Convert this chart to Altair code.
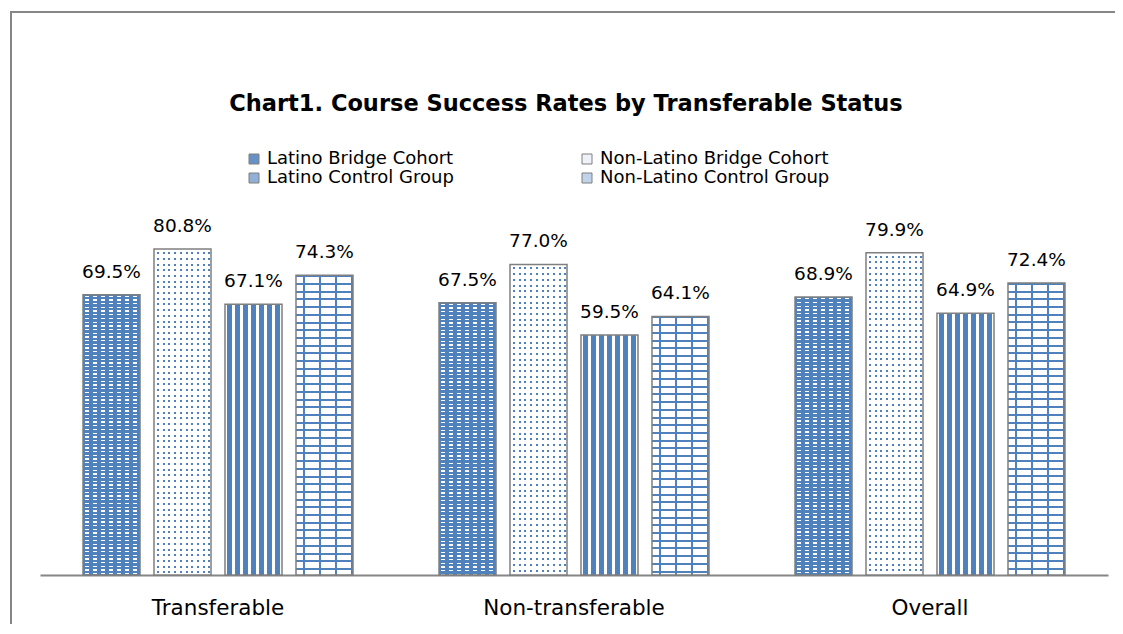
import math
import altair as alt
import pandas as pd

# ---------------- data ----------------
categories = ["Transferable", "Non-transferable", "Overall"]
series_names = [
    "Latino Bridge Cohort",
    "Non-Latino Bridge Cohort",
    "Latino Control Group",
    "Non-Latino Control Group",
]
latino_bridge = [0.695, 0.675, 0.689]
nonlatino_bridge = [0.808, 0.770, 0.799]
latino_control = [0.671, 0.595, 0.649]
nonlatino_control = [0.743, 0.641, 0.724]
values_by_series = [latino_bridge, nonlatino_bridge, latino_control, nonlatino_control]

rows = []
for s, vals in zip(series_names, values_by_series):
    for c, v in zip(categories, vals):
        rows.append({"category": c, "series": s, "value": v})
df = pd.DataFrame(rows)

# ---------------- style ----------------
W, H = 1068, 363
YMAX = 0.9
BAR_W = 57.0
BLUE = "#4F81BD"
WHITE = "#FFFFFF"
CLEAR = "rgba(255,255,255,0)"
GRAY = "#7F7F7F"
AXIS_GRAY = "#868686"
FONT = "DejaVu Sans"
legend_colors = ["#6792C6", "#EEF2F8", "#91B0D6", "#C1D3E8"]


def stripe_gradient(length, period, on_len, on_color, off_color, phase, vertical):
    segs = []
    s = phase - period * math.ceil(phase / period)
    cur = 0.0
    while cur < length - 1e-9:
        a, b = s, s + on_len
        if a > cur:
            e = min(a, length)
            segs.append((cur, e, off_color))
            cur = e
        if b > cur and cur < length:
            e = min(b, length)
            segs.append((cur, e, on_color))
            cur = e
        s += period
    stops = []
    for a, b, col in segs:
        stops.append(alt.GradientStop(color=col, offset=round(a / length, 5)))
        stops.append(alt.GradientStop(color=col, offset=round(b / length, 5)))
    if vertical:
        return alt.LinearGradient(gradient="linear", stops=stops, x1=0, x2=0, y1=0, y2=1)
    return alt.LinearGradient(gradient="linear", stops=stops, x1=0, x2=1, y1=0, y2=0)


def pattern_fills(idx, h):
    """Fills from bottom to top that build the pattern of one bar."""
    if idx == 0:  # blue with white dashes
        return [
            stripe_gradient(h, 3.7, 1.3, WHITE, BLUE, 1.0, True),
            stripe_gradient(BAR_W, 8.0, 4.0, CLEAR, BLUE, 2.0, False),
        ]
    if idx == 1:  # white with blue dots
        return [
            stripe_gradient(BAR_W, 5.7, 2.0, BLUE, WHITE, 3.0, False),
            stripe_gradient(h, 5.7, 2.0, CLEAR, WHITE, 3.0, True),
        ]
    if idx == 2:  # vertical stripes
        return [stripe_gradient(BAR_W, 8.0, 5.0, BLUE, WHITE, 2.0, False)]
    # bricks
    return [
        stripe_gradient(h, 7.7, 2.0, BLUE, WHITE, 0.0, True),
        stripe_gradient(BAR_W, 16.0, 2.0, BLUE, CLEAR, 7.0, False),
    ]


enc = dict(
    x=alt.X(
        "category:N",
        scale=alt.Scale(domain=categories, paddingInner=0.2416, paddingOuter=0.1208),
        axis=alt.Axis(
            title=None,
            labelAngle=0,
            ticks=False,
            grid=False,
            domainColor=AXIS_GRAY,
            domainWidth=2,
            labelFont=FONT,
            labelFontSize=21.5,
            labelColor="black",
            labelPadding=22,
            labelLimit=400,
        ),
    ),
    xOffset=alt.XOffset(
        "series:N",
        scale=alt.Scale(domain=series_names, paddingInner=0.197, paddingOuter=0),
    ),
    y=alt.Y("value:Q", scale=alt.Scale(domain=[0, YMAX]), axis=None),
)

base = alt.Chart(df)

layers = [
    base.mark_bar().encode(
        **enc,
        color=alt.Color(
            "series:N",
            scale=alt.Scale(domain=series_names, range=legend_colors),
            legend=alt.Legend(
                title=None,
                orient="none",
                direction="horizontal",
                legendX=205,
                legendY=-62,
                columns=2,
                columnPadding=124,
                rowPadding=1,
                symbolType="square",
                symbolSize=100,
                symbolStrokeColor=GRAY,
                symbolStrokeWidth=1,
                labelFont=FONT,
                labelFontSize=18,
                labelColor="black",
                labelOffset=4,
                labelLimit=400,
                padding=0,
            ),
        ),
    )
]

for idx, (s, vals) in enumerate(zip(series_names, values_by_series)):
    for c, v in zip(categories, vals):
        h = v / YMAX * H
        fills = pattern_fills(idx, h)
        for k, f in enumerate(fills):
            props = dict(fill=f)
            if k == len(fills) - 1:
                props.update(stroke=GRAY, strokeWidth=1.5)
            layers.append(
                base.mark_bar(**props)
                .encode(**enc)
                .transform_filter((alt.datum.series == s) & (alt.datum.category == c))
            )

layers.append(
    base.mark_text(font=FONT, fontSize=18.5, color="black", dy=-17, baseline="alphabetic").encode(
        **enc, text=alt.Text("value:Q", format=".1%")
    )
)

layers.append(
    alt.Chart(pd.DataFrame({"frame": [1]}))
    .mark_rect(fillOpacity=0, stroke=AXIS_GRAY, strokeWidth=2)
    .encode(x=alt.value(-29), x2=alt.value(1150), y=alt.value(-200), y2=alt.value(500))
)

chart = (
    alt.layer(*layers)
    .properties(
        width=W,
        height=H,
        title=alt.TitleParams(
            text="Chart1. Course Success Rates by Transferable Status",
            font=FONT,
            fontSize=22.5,
            fontWeight="bold",
            color="black",
            anchor="middle",
            offset=-104,
            dx=-8,
        ),
        autosize=alt.AutoSizeParams(type="none"),
        padding={"left": 32, "top": 204, "right": 7, "bottom": 49},
    )
    .configure_view(strokeWidth=0)
)

chart.save("out.html", embed_options={"renderer": "svg", "actions": False})
